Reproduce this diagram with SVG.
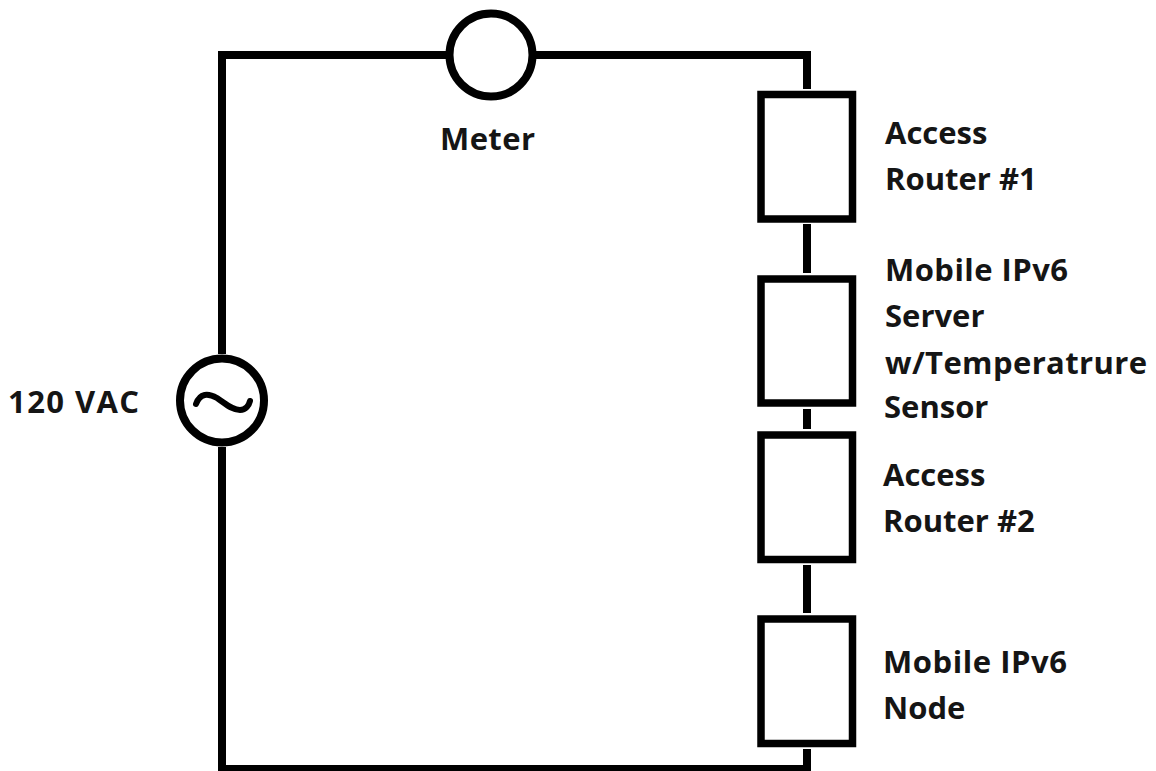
<svg xmlns="http://www.w3.org/2000/svg" width="1156" height="771" viewBox="0 0 1156 771">
<style>
.w{fill:none;stroke:#000;stroke-width:8}
.b{fill:#fff;stroke:#000;stroke-width:7.5}
.c{fill:#fff;stroke:#000;stroke-width:8}
text{font-family:"Open Sans","Noto Sans","Liberation Sans",sans-serif;font-size:31px;font-weight:700;fill:#151515}
</style>
<rect width="1156" height="771" fill="#fff"/>
<g id="connectors">
<path class="w" d="M446 55H222V354"/>
<path class="w" d="M536 55H807V89"/>
<path class="w" d="M807 224V273"/>
<path class="w" d="M807 409V429"/>
<path class="w" d="M807 565V613"/>
<path class="w" d="M807 749V769H222V447"/>
</g>
<g id="meter"><circle class="c" cx="491" cy="55" r="41.5"/><text x="440" y="150" textLength="95">Meter</text></g>
<g id="source"><circle class="c" cx="222" cy="400.5" r="42"/><path d="M196 404C200 393 208 393 217 398C226 404 232 410 240 410C246 410 249 405 250 401" fill="none" stroke="#000" stroke-width="6" stroke-linecap="round"/><text x="8" y="413" textLength="131">120 VAC</text></g>
<g id="router1"><rect class="b" x="761" y="94.5" width="91.5" height="124.5"/><text x="885" y="144">Access</text><text x="885" y="190">Router #1</text></g>
<g id="server"><rect class="b" x="761" y="279" width="91.5" height="124"/><text x="885" y="281" textLength="183">Mobile IPv6</text><text x="885" y="327">Server</text><text x="885" y="374" textLength="262">w/Temperatrure</text><text x="884" y="418">Sensor</text></g>
<g id="router2"><rect class="b" x="761" y="435" width="91.5" height="124.5"/><text x="883" y="486">Access</text><text x="883" y="532">Router #2</text></g>
<g id="node"><rect class="b" x="761" y="619" width="91.5" height="124.5"/><text x="883" y="673" textLength="184">Mobile IPv6</text><text x="883" y="719">Node</text></g>
</svg>
